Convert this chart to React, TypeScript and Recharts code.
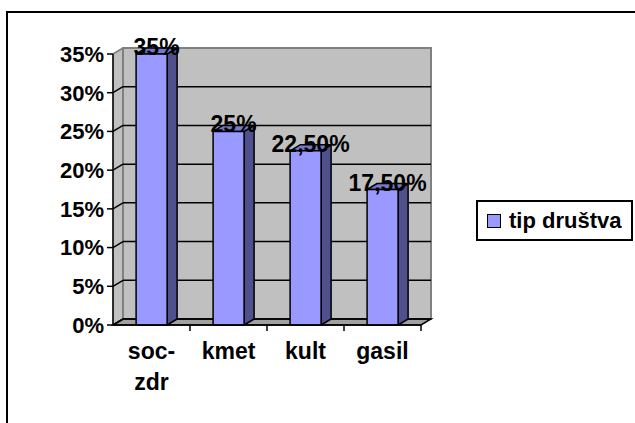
import React from "react";
import { BarChart, Bar, XAxis, YAxis, CartesianGrid, LabelList, Legend } from "recharts";

const categories = ["soc-zdr", "kmet", "kult", "gasil"];
const shares = [35, 25, 22.5, 17.5];
const yTicks = [0, 5, 10, 15, 20, 25, 30, 35];
const seriesName = "tip društva";

const data = categories.map((name, i) => ({ name, value: shares[i] }));

const W = 635;
const H = 423;
// front plane of the 3d plot box, the back wall sits DX right / DY up
const PLOT = { left: 113, top: 54, right: 421, bottom: 325 };
const DX = 10;
const DY = 6;
const Y_W = 60;
const X_H = 30;
const FONT = '"Liberation Sans", Arial, sans-serif';

const FRONT = "#9999FF";
const SIDE = "#50508C";
const TOP = "#7777CC";
const WALL = "#C0C0C0";
const EDGE = "#808080";

function pct(v: number) {
  return Number.isInteger(v) ? `${v}%` : `${v.toFixed(2).replace(".", ",")}%`;
}

function Backdrop() {
  const { left, top, right, bottom } = PLOT;
  return (
    <svg width={W} height={H} style={{ position: "absolute", left: 0, top: 0 }}>
      <path d={`M7,${H} V12 H${W}`} fill="none" stroke="#000" strokeWidth={2} />
      <polygon
        points={`${left},${top} ${left + DX},${top - DY} ${left + DX},${bottom - DY} ${left},${bottom}`}
        fill={WALL}
        stroke={EDGE}
      />
      <rect
        x={left + DX}
        y={top - DY}
        width={right - left}
        height={bottom - top}
        fill={WALL}
        stroke={EDGE}
        strokeWidth={2}
      />
      <polygon
        points={`${left},${bottom} ${left + DX},${bottom - DY} ${right + DX},${bottom - DY} ${right},${bottom}`}
        fill="#A0A0A0"
        stroke="#000"
        strokeWidth={1.5}
      />
    </svg>
  );
}

function GridLine(props: any) {
  const { x1, x2, y1 } = props;
  const stroke = Math.abs(y1 - PLOT.top) < 1 ? EDGE : "#000";
  return (
    <g strokeWidth={1.5}>
      <line x1={x1 + DX} y1={y1 - DY} x2={x2 + DX} y2={y1 - DY} stroke={stroke} />
      <line x1={x1} y1={y1} x2={x1 + DX} y2={y1 - DY} stroke={stroke} />
    </g>
  );
}

function Bar3D(props: any) {
  const { x, y, width, height } = props;
  if (!height) return null;
  const r = x + width;
  const b = y + height;
  return (
    <g stroke="#000" strokeWidth={1.5} strokeLinejoin="round">
      <polygon points={`${r},${y} ${r + DX},${y - DY} ${r + DX},${b - DY} ${r},${b}`} fill={SIDE} />
      <polygon points={`${x},${y} ${x + DX},${y - DY} ${r + DX},${y - DY} ${r},${y}`} fill={TOP} />
      <rect x={x} y={y} width={width} height={height} fill={FRONT} />
    </g>
  );
}

function ValueLabel(props: any) {
  const { x, y, width, value } = props;
  return (
    <text
      x={x + width / 2 + DX / 2}
      y={y + 1}
      textAnchor="middle"
      fontSize={23}
      fontWeight="bold"
      fill="#000"
      fontFamily={FONT}
    >
      {pct(value)}
    </text>
  );
}

function CategoryTick(props: any) {
  const { x, y, payload } = props;
  const name: string = payload.value;
  const dash = name.indexOf("-");
  const lines = dash >= 0 ? [name.slice(0, dash + 1), name.slice(dash + 1)] : [name];
  const edge = x + (payload.offset ?? 38.5);
  return (
    <g>
      <line x1={edge} y1={y - 6} x2={edge} y2={y} stroke="#000" strokeWidth={1.5} />
      <text x={x} y={y} textAnchor="middle" fontSize={23} fontWeight="bold" fill="#000" fontFamily={FONT}>
        {lines.map((l, i) => (
          <tspan key={i} x={x} dy={i === 0 ? 28 : 31}>
            {l}
          </tspan>
        ))}
      </text>
    </g>
  );
}

function LegendBox(props: any) {
  const label = props.payload?.[0]?.value ?? seriesName;
  return (
    <div
      style={{
        boxSizing: "border-box",
        width: 157,
        height: 41,
        border: "2px solid #000",
        background: "#fff",
        display: "flex",
        alignItems: "center",
        fontFamily: FONT,
        fontSize: 22,
        fontWeight: "bold",
        color: "#000",
      }}
    >
      <span
        style={{
          display: "inline-block",
          boxSizing: "border-box",
          width: 14,
          height: 14,
          background: FRONT,
          border: "1.5px solid #000",
          marginLeft: 9,
          marginRight: 8,
        }}
      />
      {label}
    </div>
  );
}

export default function App() {
  return (
    <div style={{ position: "absolute", left: 0, top: 0, width: W, height: H, background: "#fff" }}>
      <Backdrop />
      <BarChart
        width={W}
        height={H}
        data={data}
        margin={{
          top: PLOT.top,
          left: PLOT.left - Y_W,
          right: W - PLOT.right,
          bottom: H - PLOT.bottom - X_H,
        }}
        barCategoryGap="30%"
        style={{ fontFamily: FONT }}
      >
        <CartesianGrid vertical={false} horizontal={GridLine} fill="none" />
        <XAxis
          dataKey="name"
          height={X_H}
          interval={0}
          axisLine={{ stroke: "#000", strokeWidth: 1.5 }}
          tickLine={false}
          tickSize={6}
          tickMargin={0}
          tick={CategoryTick}
        />
        <YAxis
          domain={[0, 35]}
          ticks={yTicks}
          interval={0}
          tickFormatter={pct}
          width={Y_W}
          axisLine={{ stroke: "#000", strokeWidth: 1.5 }}
          tickLine={{ stroke: "#000", strokeWidth: 1.5 }}
          tickSize={6}
          tickMargin={3}
          tick={{ fontSize: 22, fontWeight: "bold", fill: "#000", fontFamily: FONT }}
        />
        <Legend
          layout="vertical"
          align="center"
          verticalAlign="middle"
          wrapperStyle={{ left: 476, top: 200, width: 157, height: 41 }}
          content={LegendBox}
        />
        <Bar dataKey="value" name={seriesName} fill={FRONT} shape={Bar3D} isAnimationActive={false}>
          <LabelList dataKey="value" content={ValueLabel} />
        </Bar>
      </BarChart>
    </div>
  );
}
